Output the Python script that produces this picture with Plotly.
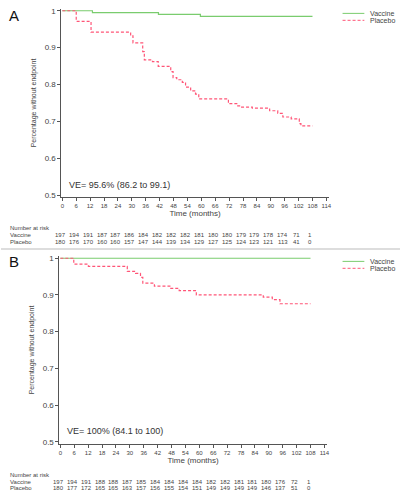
import plotly.graph_objects as go

# ---------------- data ----------------
months_ticks = list(range(0, 115, 6))
risk_months = list(range(0, 109, 6))

# Panel A
a_vac_t = [0, 13, 41.5, 59.6, 108]
a_vac_s = [1.0, 0.995, 0.990, 0.985, 0.985]
a_pla_t = [0, 6, 12.4, 29.5, 30.5, 34.7, 35.4, 38.9, 41.4, 46.8, 47.8, 49.4, 51.8, 53.2,
           55.4, 57.5, 58.9, 71.7, 75.3, 77.4, 82, 89.5, 93, 95.2, 98.8, 102.3, 103, 108]
a_pla_s = [1.0, 0.971, 0.942, 0.932, 0.913, 0.889, 0.867, 0.862, 0.849, 0.835, 0.819, 0.813,
           0.806, 0.793, 0.783, 0.774, 0.761, 0.748, 0.742, 0.739, 0.736, 0.729, 0.722, 0.712,
           0.707, 0.694, 0.688, 0.688]
a_risk_vac = [197, 194, 191, 187, 187, 186, 184, 182, 182, 182, 181, 180, 180, 179, 179, 178, 174, 71, 1]
a_risk_pla = [180, 176, 170, 160, 160, 157, 147, 144, 139, 134, 129, 127, 125, 124, 123, 121, 113, 41, 0]
a_ve = "VE= 95.6% (86.2 to 99.1)"

# Panel B
b_vac_t = [0, 108]
b_vac_s = [1.0, 1.0]
b_pla_t = [0, 5.8, 12.1, 28.9, 32.5, 34.6, 35.6, 40.6, 47.7, 51.3, 58.7, 87.6, 91.5, 94.8, 108]
b_pla_s = [1.0, 0.984, 0.978, 0.964, 0.959, 0.948, 0.932, 0.924, 0.918, 0.912, 0.900, 0.894,
           0.887, 0.876, 0.876]
b_risk_vac = [197, 194, 191, 188, 188, 187, 185, 184, 184, 184, 184, 182, 182, 181, 181, 180, 176, 72, 1]
b_risk_pla = [180, 177, 172, 165, 165, 163, 157, 156, 155, 154, 151, 149, 149, 149, 149, 146, 137, 51, 0]
b_ve = "VE= 100% (84.1 to 100)"

y_ticks = [0.5, 0.6, 0.7, 0.8, 0.9, 1.0]
y_tick_text = ["0.5", "0.6", "0.7", "0.8", "0.9", "1"]
series_names = ["Vaccine", "Placebo"]

# ---------------- styling ----------------
W, H = 403, 500
FONT = "Liberation Sans, Arial, sans-serif"
GREEN = "#7acc6e"
PINK = "#ff5577"
AXIS = "#555555"
TXT = "#444444"
DASH = "3px,2px"

def py(p):  # pixel row -> paper fraction
    return 1 - p / H

def px(p):
    return p / W

fig = go.Figure()

fig.add_trace(go.Scatter(x=a_vac_t, y=a_vac_s, mode="lines", line_shape="hv",
                         line=dict(color=GREEN, width=1.2), name=series_names[0],
                         xaxis="x", yaxis="y"))
fig.add_trace(go.Scatter(x=a_pla_t, y=a_pla_s, mode="lines", line_shape="hv",
                         line=dict(color=PINK, width=1.2, dash=DASH), name=series_names[1],
                         xaxis="x", yaxis="y"))
fig.add_trace(go.Scatter(x=b_vac_t, y=b_vac_s, mode="lines", line_shape="hv",
                         line=dict(color=GREEN, width=1.2), name=series_names[0],
                         xaxis="x2", yaxis="y2"))
fig.add_trace(go.Scatter(x=b_pla_t, y=b_pla_s, mode="lines", line_shape="hv",
                         line=dict(color=PINK, width=1.2, dash=DASH), name=series_names[1],
                         xaxis="x2", yaxis="y2"))

xaxis_common = dict(range=[-0.4, 115], tickvals=months_ticks, ticks="outside", ticklen=3,
                    tickcolor=AXIS, showline=True, linecolor=AXIS, linewidth=1,
                    showgrid=False, zeroline=False,
                    tickfont=dict(size=6, color=TXT, family=FONT),
                    title=dict(text="Time (months)", font=dict(size=8, color=TXT, family=FONT),
                               standoff=1))
yaxis_common = dict(range=[0.495, 1.005], tickvals=y_ticks, ticktext=y_tick_text,
                    ticks="outside", ticklen=3, tickcolor=AXIS, showline=True,
                    linecolor=AXIS, linewidth=1, showgrid=False, zeroline=False,
                    tickfont=dict(size=8, color=TXT, family=FONT),
                    title=dict(text="Percentage without endpoint",
                               font=dict(size=7, color=TXT, family=FONT), standoff=7))

fig.update_layout(
    width=W, height=H, margin=dict(l=0, r=0, t=0, b=0),
    paper_bgcolor="white", plot_bgcolor="white",
    font=dict(family=FONT, color=TXT),
    xaxis=dict(domain=[px(61), px(331)], anchor="y", **xaxis_common),
    yaxis=dict(domain=[py(197), py(7)], anchor="x", **yaxis_common),
    xaxis2=dict(domain=[px(59), px(329)], anchor="y2", **xaxis_common),
    yaxis2=dict(domain=[py(446), py(257)], anchor="x2", **yaxis_common),
    showlegend=False,
)

ann = []
shapes = []
# panel letters
ann.append(dict(text="A", x=px(6), y=py(14), xref="paper", yref="paper", xanchor="left",
                yanchor="middle", showarrow=False, font=dict(size=15, color="#111", family=FONT)))
ann.append(dict(text="B", x=px(6), y=py(262), xref="paper", yref="paper", xanchor="left",
                yanchor="middle", showarrow=False, font=dict(size=15, color="#111", family=FONT)))
# VE text
ann.append(dict(text=a_ve, x=2, y=0.528, xref="x", yref="y", xanchor="left", yanchor="middle",
                showarrow=False, font=dict(size=9, color="#333", family=FONT)))
ann.append(dict(text=b_ve, x=2, y=0.528, xref="x2", yref="y2", xanchor="left", yanchor="middle",
                showarrow=False, font=dict(size=9, color="#333", family=FONT)))

# manual legends
def legend(y1, y2):
    out_a, out_s = [], []
    for name, yy, col, dash in [(series_names[0], y1, GREEN, "solid"),
                                (series_names[1], y2, PINK, DASH)]:
        out_s.append(dict(type="line", xref="paper", yref="paper", x0=px(345), x1=px(367),
                          y0=py(yy), y1=py(yy), line=dict(color=col, width=1, dash=dash)))
        out_a.append(dict(text=name, x=px(371), y=py(yy), xref="paper", yref="paper",
                          xanchor="left", yanchor="middle", showarrow=False,
                          font=dict(size=7, color=TXT, family=FONT)))
    return out_a, out_s

for y1, y2 in [(11.5, 18.5), (262, 269)]:
    a_, s_ = legend(y1, y2)
    ann += a_
    shapes += s_

# number at risk tables
def risk_table(xref, y_head, y_vac, y_pla, vac, pla):
    out = []
    f = dict(size=6, color=TXT, family=FONT)
    out.append(dict(text="Number at risk", x=px(7), y=py(y_head), xref="paper", yref="paper",
                    xanchor="left", yanchor="middle", showarrow=False, font=f))
    out.append(dict(text=series_names[0], x=px(7), y=py(y_vac), xref="paper", yref="paper",
                    xanchor="left", yanchor="middle", showarrow=False, font=f))
    out.append(dict(text=series_names[1], x=px(7), y=py(y_pla), xref="paper", yref="paper",
                    xanchor="left", yanchor="middle", showarrow=False, font=f))
    for m, v in zip(risk_months, vac):
        out.append(dict(text=str(v), x=m, y=py(y_vac), xref=xref, yref="paper",
                        xanchor="center", yanchor="middle", showarrow=False, font=f, xshift=-2))
    for m, v in zip(risk_months, pla):
        out.append(dict(text=str(v), x=m, y=py(y_pla), xref=xref, yref="paper",
                        xanchor="center", yanchor="middle", showarrow=False, font=f, xshift=-2))
    return out

ann += risk_table("x", 228, 235, 242, a_risk_vac, a_risk_pla)
ann += risk_table("x2", 478, 485, 491, b_risk_vac, b_risk_pla)

# separator line between panels
shapes.append(dict(type="line", xref="paper", yref="paper", x0=0, x1=1, y0=py(249.5),
                   y1=py(249.5), line=dict(color="#bbbbbb", width=1)))

fig.update_layout(annotations=ann, shapes=shapes)

fig.write_html("out.html", config={"displayModeBar": False},
               post_script="document.body.style.margin='0';document.body.style.overflow='hidden';")
